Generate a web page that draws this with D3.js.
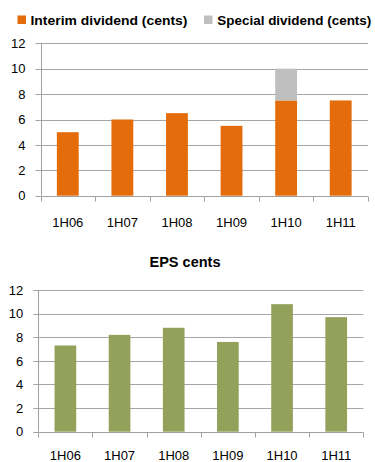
<!DOCTYPE html>
<html><head><meta charset="utf-8">
<script src="https://cdn.jsdelivr.net/npm/d3@7"></script>
<style>
html,body{margin:0;padding:0;background:#fff;}
svg{display:block;font-family:"Liberation Sans",Arial,sans-serif;}
</style></head>
<body>
<svg id="c" width="375" height="462"></svg>
<script>
const categories = ["1H06","1H07","1H08","1H09","1H10","1H11"];
const interimDividend = [5, 6, 6.5, 5.5, 7.5, 7.5];
const specialDividend = [0, 0, 0, 0, 2.5, 0];
const eps = [7.3, 8.2, 8.8, 7.6, 10.8, 9.7];
const yTicks = [0, 2, 4, 6, 8, 10, 12];
const legendLabels = ["Interim dividend (cents)", "Special dividend (cents)"];
const epsTitle = "EPS cents";

const COL_ORANGE = "#E46C0A", COL_GRAY = "#BFBFBF", COL_GREEN = "#93A15B";
const GRID = "#A6A6A6", AXIS = "#A0A0A0";

const svg = d3.select("#c");

function drawPanel(g, box, stacks, colors, labelOffset) {
  const x = d3.scaleBand().domain(categories).range([box.left, box.right]).paddingInner(0.6).paddingOuter(0.3);
  const y = d3.scaleLinear().domain([0, 12]).range([box.bottom, box.top]);
  // gridlines
  g.append("g").selectAll("line").data(yTicks.filter(t => t > 0)).join("line")
    .attr("x1", box.left - 5).attr("x2", box.right)
    .attr("y1", d => Math.round(y(d)) + 0.5).attr("y2", d => Math.round(y(d)) + 0.5)
    .attr("stroke", GRID).attr("stroke-width", 1);
  // y labels
  g.append("g").selectAll("text").data(yTicks).join("text")
    .attr("x", box.left - 15).attr("y", d => y(d)).attr("dy", "0.36em")
    .attr("text-anchor", "end").attr("font-size", 13).attr("fill", "#000")
    .text(d => d);
  // bars
  stacks.forEach((vals, si) => {
    g.append("g").selectAll("rect").data(categories).join("rect")
      .attr("x", d => x(d)).attr("width", x.bandwidth())
      .attr("y", (d, i) => {
        let base = 0; for (let k = 0; k < si; k++) base += stacks[k][i];
        return y(base + vals[i]);
      })
      .attr("height", (d, i) => {
        let base = 0; for (let k = 0; k < si; k++) base += stacks[k][i];
        return y(base) - y(base + vals[i]);
      })
      .attr("fill", colors[si]);
  });
  // y axis line
  const xl = Math.round(box.left) + 0.5;
  g.append("line").attr("x1", xl).attr("x2", xl).attr("y1", y(12)).attr("y2", box.bottom)
    .attr("stroke", AXIS);
  g.append("line").attr("x1", box.left - 5).attr("x2", box.left).attr("y1", Math.round(y(0)) + 0.5).attr("y2", Math.round(y(0)) + 0.5).attr("stroke", AXIS);
  // x axis
  const xAxis = d3.axisBottom(x).tickSize(0).tickPadding(0);
  const ax = g.append("g").attr("transform", `translate(0,${Math.round(y(0)) + 0.5})`).call(xAxis);
  ax.select(".domain").attr("stroke", AXIS).attr("d", `M${box.left},0H${box.right}`);
  ax.selectAll("text").attr("font-size", 13).attr("fill", "#000")
    .attr("font-family", "Liberation Sans, Arial, sans-serif")
    .attr("y", labelOffset).attr("dy", "0");
  // boundary ticks
  const bounds = d3.range(categories.length + 1).map(i => box.left + i * x.step());
  ax.append("g").selectAll("line").data(bounds).join("line")
    .attr("x1", d => Math.round(d) + 0.5).attr("x2", d => Math.round(d) + 0.5)
    .attr("y1", 0).attr("y2", 5).attr("stroke", AXIS);
  return {x, y};
}

// Top panel
const topPanel = svg.append("g");
drawPanel(topPanel, {left: 40.5, right: 368, top: 43.3, bottom: 195.7},
  [interimDividend, specialDividend], [COL_ORANGE, COL_GRAY], 30);

// Legend
const legend = svg.append("g");
const legendPos = [{sx: 17.5, tx: 30.5, w: 157}, {sx: 204, tx: 217.3, w: 154}];
const legendCols = [COL_ORANGE, COL_GRAY];
legendLabels.forEach((lab, i) => {
  legend.append("rect").attr("x", legendPos[i].sx).attr("y", 15.5).attr("width", 8.5).attr("height", 8.5)
    .attr("fill", legendCols[i]);
  legend.append("text").attr("x", legendPos[i].tx).attr("y", 24.5)
    .attr("font-size", 13.5).attr("font-weight", "bold").attr("fill", "#000")
    .attr("textLength", legendPos[i].w).attr("lengthAdjust", "spacingAndGlyphs")
    .text(lab);
});

// Bottom panel
const bottomPanel = svg.append("g");
drawPanel(bottomPanel, {left: 38.3, right: 363.3, top: 290, bottom: 431.7}, [eps], [COL_GREEN], 27);
svg.append("text").attr("x", 185).attr("y", 266.5).attr("text-anchor", "middle")
  .attr("font-size", 14.5).attr("font-weight", "bold").attr("fill", "#000").text(epsTitle);
</script>
</body></html>
